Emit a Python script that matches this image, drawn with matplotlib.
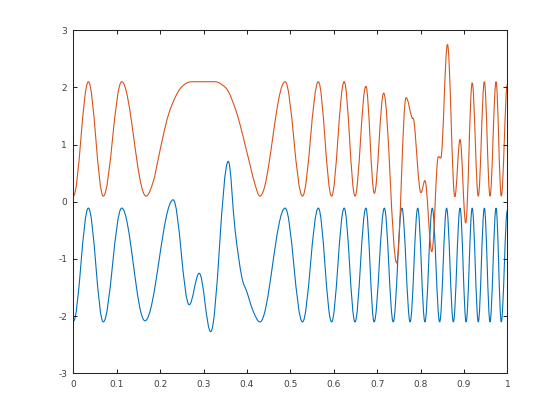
import matplotlib
matplotlib.use('Agg')
import matplotlib.pyplot as plt
from matplotlib.path import Path
from matplotlib.patches import PathPatch

plt.rcParams['font.family'] = ['DejaVu Sans']
plt.rcParams['axes.unicode_minus'] = False

# extrema / shape points (x, y)
blue_x = [0.0, 0.0346, 0.069, 0.1115, 0.165, 0.230, 0.267, 0.290, 0.3165,
          0.357, 0.3726, 0.388, 0.3996, 0.4147, 0.430, 0.488, 0.528, 0.5645,
          0.595, 0.624, 0.649, 0.674, 0.693, 0.7166, 0.737, 0.757, 0.776,
          0.7935, 0.810, 0.827, 0.844, 0.860, 0.8756, 0.891, 0.905, 0.919,
          0.933, 0.947, 0.960, 0.974, 0.986, 1.0]
blue_y = [-2.09, -0.11, -2.1, -0.11, -2.08, 0.035, -1.80, -1.25, -2.27,
          0.706, -0.49, -1.31, -1.57, -1.92, -2.1, -0.11, -2.1, -0.11,
          -2.1, -0.11, -2.1, -0.11, -2.1, -0.11, -2.1, -0.11, -2.1,
          -0.11, -2.1, -0.11, -2.1, -0.11, -2.1, -0.11, -2.1, -0.11,
          -2.1, -0.11, -2.1, -0.11, -2.1, -0.15]

orange_x = [0.0, 0.0346, 0.069, 0.1115, 0.1675, 0.1843, 0.196, 0.2074, 0.219,
            0.2343, 0.2497, 0.273, 0.3265, 0.342, 0.357, 0.3726, 0.384, 0.3956,
            0.407, 0.4187, 0.430, 0.488, 0.528, 0.5645, 0.595, 0.624, 0.649,
            0.674, 0.6935, 0.715, 0.745, 0.7666, 0.78, 0.785, 0.801, 0.810,
            0.826, 0.841, 0.8465, 0.862, 0.879, 0.891, 0.904, 0.919, 0.933,
            0.947, 0.960, 0.974, 0.986, 1.0]
orange_y = [0.1, 2.1, 0.1, 2.1, 0.1, 0.36, 0.765, 1.17, 1.52,
            1.82, 2.01, 2.1, 2.1, 2.05, 1.93, 1.64, 1.35, 1.0,
            0.65, 0.30, 0.1, 2.1, 0.1, 2.1, 0.1, 2.1, 0.1,
            2.02, 0.15, 1.90, -1.07, 1.82, 1.47, 1.40, 0.16, 0.37,
            -0.87, 0.79, 0.765, 2.75, 0.09, 1.09, -0.37, 2.08, 0.1,
            2.1, 0.1, 2.1, 0.1, 2.05]

x_ticks = [0, 0.1, 0.2, 0.3, 0.4, 0.5, 0.6, 0.7, 0.8, 0.9, 1]
x_labels = ['0', '0.1', '0.2', '0.3', '0.4', '0.5', '0.6', '0.7', '0.8', '0.9', '1']
y_ticks = [-3, -2, -1, 0, 1, 2, 3]
y_labels = ['-3', '-2', '-1', '0', '1', '2', '3']


def smooth_path(xs, ys, k=0.364):
    # cubic bezier segments through the points, flat tangent at turning points
    n = len(xs)
    slopes = []
    for i in range(n):
        if i == 0 or i == n - 1:
            slopes.append(0.0)
        elif (ys[i] - ys[i - 1]) * (ys[i + 1] - ys[i]) <= 0:
            slopes.append(0.0)
        else:
            slopes.append((ys[i + 1] - ys[i - 1]) / (xs[i + 1] - xs[i - 1]))
    verts = [(xs[0], ys[0])]
    codes = [Path.MOVETO]
    for i in range(n - 1):
        h = xs[i + 1] - xs[i]
        verts.append((xs[i] + k * h, ys[i] + slopes[i] * k * h))
        verts.append((xs[i + 1] - k * h, ys[i + 1] - slopes[i + 1] * k * h))
        verts.append((xs[i + 1], ys[i + 1]))
        codes += [Path.CURVE4] * 3
    return Path(verts, codes)


fig = plt.figure(figsize=(5.6, 4.2), dpi=100)
ax = fig.add_axes([0.131, 0.111, 0.775, 0.817])

ax.add_patch(PathPatch(smooth_path(blue_x, blue_y), fill=False,
                       edgecolor='#0072BD', lw=0.8))
ax.add_patch(PathPatch(smooth_path(orange_x, orange_y), fill=False,
                       edgecolor='#D95319', lw=0.8))

ax.set_xlim(0, 1)
ax.set_ylim(-3, 3)
ax.set_xticks(x_ticks)
ax.set_xticklabels(x_labels)
ax.set_yticks(y_ticks)
ax.set_yticklabels(y_labels)

for s in ax.spines.values():
    s.set_color('#262626')
    s.set_linewidth(0.75)
ax.tick_params(direction='in', top=True, right=True, length=3, width=0.75,
               color='#262626', labelcolor='#404040', labelsize=6.5, pad=4.5)

fig.savefig('out.png', dpi=100)
